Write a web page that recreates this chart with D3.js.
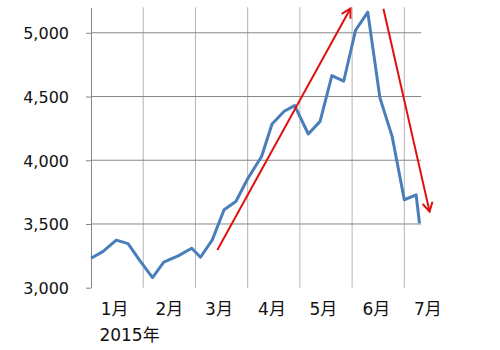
<!DOCTYPE html>
<html>
<head>
<meta charset="utf-8">
<script src="https://cdn.jsdelivr.net/npm/d3@7"></script>
<style>
  body { margin: 0; background: #fff; }
  svg { display: block; }
  text { font-family: "DejaVu Sans", "Noto Sans CJK JP", sans-serif; font-size: 16px; fill: #111; }
  .xlabel { font-size: 17px; }
</style>
</head>
<body>
<div id="chart"></div>
<script>
// weekly index values
const dates = ['2015-01-01', '2015-01-08', '2015-01-16', '2015-01-23', '2015-01-30',
               '2015-02-06', '2015-02-12', '2015-02-20', '2015-02-27',
               '2015-03-04', '2015-03-11', '2015-03-18', '2015-03-25',
               '2015-04-01', '2015-04-09', '2015-04-15', '2015-04-22', '2015-04-28',
               '2015-05-06', '2015-05-13', '2015-05-20', '2015-05-27',
               '2015-06-03', '2015-06-10', '2015-06-17', '2015-06-24',
               '2015-07-01', '2015-07-08', '2015-07-10'];
const values = [3231, 3283, 3373, 3346, 3212,
                3079, 3200, 3252, 3310,
                3239, 3375, 3611, 3676,
                3855, 4030, 4285, 4384, 4429,
                4206, 4305, 4664, 4620,
                5020, 5162, 4489, 4187,
                3690, 3729, 3506];
const monthLabels = ['1月', '2月', '3月', '4月', '5月', '6月', '7月'];
const yearLabel = '2015年';
const yTicks = [3000, 3500, 4000, 4500, 5000];
const gridValues = [3500, 4000, 4500, 5000];
// red trend arrows: [date, value] start and end
const arrowUp = [['2015-03-14', 3296], ['2015-05-31', 5191]];
const arrowDown = [['2015-06-19', 5189], ['2015-07-16', 3597]];

const parse = d3.timeParse('%Y-%m-%d');
const width = 500, height = 350;
const margin = { top: 7.3, left: 91, bottom: 62.3 };
const monthW = 52.22;

let svg = d3.select('#chart').append('svg')
    .attr('width', width)
    .attr('height', height);

// every month gets the same width on this axis
const monthStarts = d3.range(0, 7).map(m => new Date(2015, m, 1));
const xDomain = monthStarts.concat([new Date(2015, 6, 11)]);
const xRange = monthStarts.map((d, i) => margin.left + i * monthW)
    .concat([margin.left + 6 * monthW + monthW * 10 / 31]);
const xScale = d3.scaleTime().domain(xDomain).range(xRange);
const plotRight = xRange[xRange.length - 1];

const yScale = d3.scaleLinear()
    .domain([3000, 5200])
    .range([height - margin.bottom, margin.top]);

// vertical gridlines at month starts
svg.append('g')
    .selectAll('line')
    .data(monthStarts.slice(1))
    .join('line')
    .attr('x1', d => xScale(d))
    .attr('x2', d => xScale(d))
    .attr('y1', yScale(5200))
    .attr('y2', yScale(3000))
    .attr('stroke', '#b4b4b4')
    .attr('stroke-width', 1);

// horizontal gridlines
svg.append('g')
    .selectAll('line')
    .data(gridValues)
    .join('line')
    .attr('x1', margin.left)
    .attr('x2', plotRight)
    .attr('y1', d => yScale(d))
    .attr('y2', d => yScale(d))
    .attr('stroke', '#868686')
    .attr('stroke-width', 1);

// y axis
let yAxis = svg.append('g')
    .attr('transform', `translate(${margin.left},0)`)
    .call(d3.axisLeft(yScale)
        .tickValues(yTicks)
        .tickFormat(d3.format(','))
        .tickSize(5)
        .tickSizeOuter(0)
        .tickPadding(17));
yAxis.select('.domain').attr('stroke', '#868686');
yAxis.selectAll('.tick line').attr('stroke', '#868686');
yAxis.selectAll('.tick text')
    .attr('font-family', null)
    .attr('font-size', null)
    .attr('fill', null)
    .attr('dy', '0.36em');

// month labels at mid month
svg.append('g')
    .selectAll('text')
    .data(monthLabels)
    .join('text')
    .attr('class', 'xlabel')
    .attr('x', (d, i) => xScale(new Date(2015, i, 15)))
    .attr('y', height - margin.bottom + 27)
    .attr('text-anchor', 'middle')
    .text(d => d);

svg.append('text')
    .attr('class', 'xlabel')
    .attr('x', xScale(new Date(2015, 0, 6)))
    .attr('y', height - margin.bottom + 53)
    .text(yearLabel);

// the index line
const series = dates.map((d, i) => ({ date: parse(d), value: values[i] }));
const line = d3.line()
    .x(d => xScale(d.date))
    .y(d => yScale(d.value));

svg.append('path')
    .datum(series)
    .attr('d', line)
    .attr('fill', 'none')
    .attr('stroke', '#4a7ebb')
    .attr('stroke-width', 3)
    .attr('stroke-linejoin', 'round');

// arrow heads
svg.append('defs').append('marker')
    .attr('id', 'head')
    .attr('viewBox', '0 0 12 12')
    .attr('refX', 10)
    .attr('refY', 6)
    .attr('markerWidth', 12)
    .attr('markerHeight', 12)
    .attr('markerUnits', 'userSpaceOnUse')
    .attr('orient', 'auto')
    .append('path')
    .attr('d', 'M1,1 L10,6 L1,11')
    .attr('fill', 'none')
    .attr('stroke', '#e01010')
    .attr('stroke-width', 2);

svg.append('g')
    .selectAll('line')
    .data([arrowUp, arrowDown])
    .join('line')
    .attr('x1', d => xScale(parse(d[0][0])))
    .attr('y1', d => yScale(d[0][1]))
    .attr('x2', d => xScale(parse(d[1][0])))
    .attr('y2', d => yScale(d[1][1]))
    .attr('stroke', '#e01010')
    .attr('stroke-width', 2)
    .attr('marker-end', 'url(#head)');
</script>
</body>
</html>
